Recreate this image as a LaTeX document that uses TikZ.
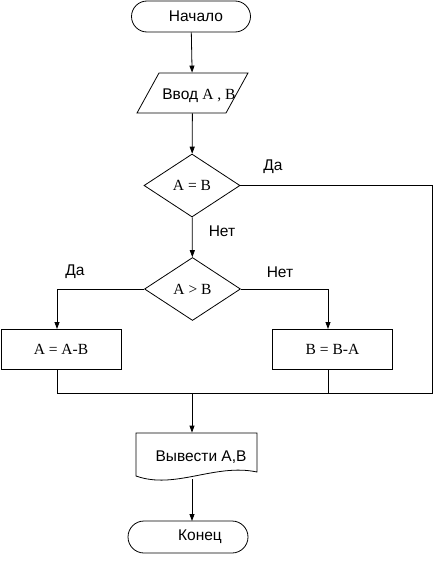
\documentclass[tikz,border=0pt]{standalone}
\usepackage{fontspec}
\setmainfont{Liberation Serif}
\setsansfont{Liberation Sans}
\usetikzlibrary{shapes.geometric,shapes.misc,arrows.meta}
\begin{document}
\begin{tikzpicture}[x=1pt,y=-1pt,
  line width=0.8pt,
  sans/.style={font=\sffamily\fontsize{15.5}{15.5}\selectfont},
  serif/.style={font=\rmfamily\fontsize{15.5}{15.5}\selectfont},
  term/.style={draw, rounded rectangle, minimum width=119pt, minimum height=31pt, inner sep=0pt, sans},
  dec/.style={draw, diamond, minimum width=96pt, minimum height=63pt, inner sep=0pt, serif},
  proc/.style={draw, rectangle, minimum width=120pt, minimum height=40pt, inner sep=0pt, serif},
  arr/.style={-{Triangle[length=7pt,width=5pt]}}
]
\useasboundingbox (0,0) rectangle (434,562);
% nodes
\node[term] (start) at (191,16.5) {\hspace*{10pt}Начало};
\node[minimum width=111pt, minimum height=40pt, inner sep=0pt] (in) at (192.5,93) {};
\draw (137,113) -- (159,73) -- (248,73) -- (226,113) -- cycle;
\node[sans, anchor=center] (intext) at (199,96) {Ввод {\rmfamily A , B}};
\node[dec] (d1) at (192,185.5) {A = B};
\node[dec] (d2) at (192.5,289) {A > B};
\node[proc] (a) at (61,349.5) {A = A-B};
\node[proc] (b) at (332.5,349) {B = B-A};
\node[minimum width=121pt, minimum height=40pt, inner sep=0pt] (out) at (196.5,453) {};
\draw (136,433) -- (257,433) -- (257,472) .. controls (215,463) and (175,490) .. (136,476) -- cycle;
\node[sans] (outtext) at (201,457) {Вывести A,B};
\node[term, minimum width=120pt, minimum height=32pt] (end) at (188,537) {\hspace*{24pt}Конец};
% labels
\node[sans] (l1) at (273,167) {Да};
\node[sans] (l2) at (222,231) {Нет};
\node[sans] (l3) at (75,272) {Да};
\node[sans] (l4) at (280,272) {Нет};
% coordinates
\coordinate (r) at (432,393);
\coordinate (jl) at (57,393);
\coordinate (j) at (192,393);
\coordinate (la) at (57,329);
\coordinate (rb) at (328,329);
\coordinate (ab) at (57,369.5);
\coordinate (bb) at (328,369);
\coordinate (ob) at (192,479);
\coordinate (et) at (192,521);
% connectors
\draw[arr] (start) -- (in);
\draw[arr] (in) -- (d1);
\draw[arr] (d1) -- (d2);
\draw (d1.east) -| (r) -- (jl);
\draw[arr] (d2.west) -| (la);
\draw[arr] (d2.east) -| (rb);
\draw (ab) -- (jl);
\draw (bb) -- (bb |- j);
\draw[arr] (j) -- (j |- out.north);
\draw[arr] (ob) -- (et);
\end{tikzpicture}
\end{document}
